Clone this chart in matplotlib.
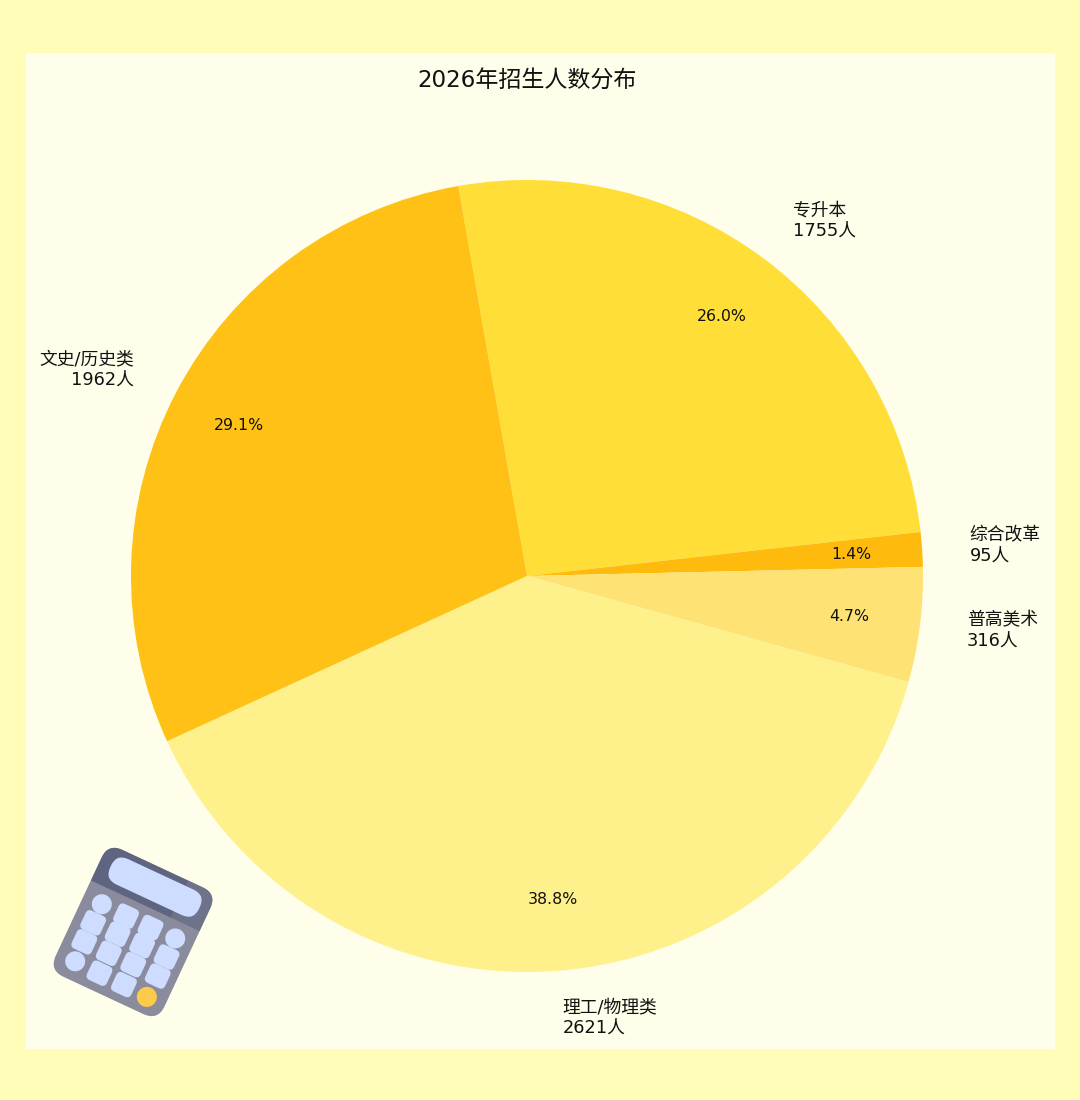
import matplotlib
matplotlib.use('Agg')
import matplotlib.pyplot as plt
from matplotlib.patches import Circle, FancyBboxPatch, Polygon, Rectangle
from matplotlib.transforms import Affine2D

plt.rcParams['font.family'] = ['DejaVu Sans', 'Noto Sans CJK SC']

categories = ['专升本', '综合改革', '普高美术', '理工/物理类', '文史/历史类']
counts = [1755, 95, 316, 2621, 1962]
colors = ['#FFDE38', '#FFBA0E', '#FEE273', '#FEF08A', '#FFC115']
title = '2026年招生人数分布'

labels = [f'{c}\n{n}人' for c, n in zip(categories, counts)]

fig = plt.figure(figsize=(10.8, 11), dpi=100, facecolor='#FFFDB8')

# pale panel behind everything
bg = fig.add_axes([0, 0, 1, 1], zorder=0)
bg.set_xlim(0, 1080)
bg.set_ylim(1100, 0)
bg.axis('off')
bg.add_patch(Rectangle((26, 53), 1029, 996, fc='#FEFEEA', ec='none'))

# pie centre 527,576 radius 396 in pixels
ax = fig.add_axes([(527 - 396) / 1080, (1100 - 576 - 396) / 1100, 792 / 1080, 792 / 1100], zorder=1)
ax.patch.set_alpha(0)
wedges, texts, autotexts = ax.pie(counts, labels=labels, colors=colors, autopct='%1.1f%%',
                                  startangle=100, counterclock=False, pctdistance=0.82,
                                  labeldistance=1.12, radius=1.0,
                                  textprops={'fontsize': 12.8, 'linespacing': 1.25, 'color': '#111111'})
for t in autotexts:
    t.set_fontsize(11.3)
ax.set_xlim(-1, 1)
ax.set_ylim(-1, 1)

fig.text(527 / 1080, 1 - 81 / 1100, title, fontsize=16.6, ha='center', va='center', color='#111111')

# calculator icon, drawn in local coords then rotated on to the page
ic = fig.add_axes([0, 0, 1, 1], zorder=2)
ic.set_xlim(0, 1080)
ic.set_ylim(1100, 0)
ic.axis('off')
tr = Affine2D().rotate_deg(25).translate(133, 932) + ic.transData


def round_box(x, y, w, h, r, color, z=3):
    p = FancyBboxPatch((x + r, y + r), w - 2 * r, h - 2 * r, boxstyle=f'round,pad={r},rounding_size={r}',
                       fc=color, ec='none', transform=tr, zorder=z)
    ic.add_patch(p)
    return p


body = round_box(-60, -70, 120, 140, 16, '#8A8B9C')
head = Rectangle((-60, -70), 120, 41, fc='#5F6580', ec='none', transform=tr, zorder=4)
ic.add_patch(head)
head.set_clip_path(body)
glare = Polygon([(28, -72), (62, -72), (62, -29), (28, -29)], fc='#8D8E9E', alpha=0.35, ec='none', transform=tr, zorder=5)
ic.add_patch(glare)
glare.set_clip_path(body)
round_box(-48, -64, 98, 28, 13, '#CDDCFF', 6)

cols = [-40, -13, 14, 41]
rows = [-12, 8, 29, 51]
for i, x in enumerate(cols):
    for j, y in enumerate(rows):
        if (i, j) == (3, 3):
            ic.add_patch(Circle((x - 1, y + 2), 10, fc='#FDCA4A', ec='none', transform=tr, zorder=6))
        elif (i, j) in [(0, 0), (3, 0), (0, 3)]:
            ic.add_patch(Circle((x, y), 10, fc='#CDDCFF', ec='none', transform=tr, zorder=6))
        else:
            round_box(x - 11, y - 10, 22, 21, 5, '#CDDCFF', 6)

fig.savefig('out.png', dpi=100, facecolor=fig.get_facecolor())
